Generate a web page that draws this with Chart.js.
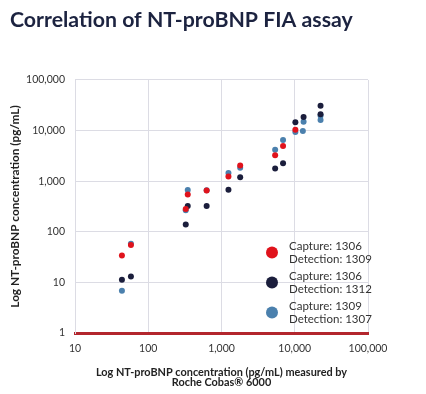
<!DOCTYPE html>
<html><head><meta charset="utf-8">
<script src="https://cdn.jsdelivr.net/npm/chart.js@4/dist/chart.umd.min.js"></script>
<style>html,body{margin:0;padding:0;background:#fff;}#wrap{width:426px;height:394px;position:relative;}</style>
</head><body><div id="wrap"><canvas id="c" width="426" height="394"></canvas></div>
<script>
const chartTitle = 'Correlation of NT-proBNP FIA assay';
const xAxisTitle = ['Log NT-proBNP concentration (pg/mL) measured by', 'Roche Cobas® 6000'];
const yAxisTitle = 'Log NT-proBNP concentration (pg/mL)';
const seriesNames = [['Capture: 1306', 'Detection: 1309'], ['Capture: 1306', 'Detection: 1312'], ['Capture: 1309', 'Detection: 1307']];
const seriesColors = ['#e0131c', '#1b1e3c', '#4b80ad'];
const xTicks = [10, 100, 1000, 10000, 100000];
const yTicks = [1, 10, 100, 1000, 10000, 100000];
// Series 1: Capture 1306 / Detection 1309
const rocheA = [43.7, 58, 325, 346, 627, 1244, 1799, 5400, 6920, 10200];
const fiaA   = [34, 55, 282, 548, 658, 1244, 2052, 3236, 4960, 10420];
// Series 2: Capture 1306 / Detection 1312
const rocheB = [43.7, 58, 325, 346, 627, 1244, 1799, 5400, 6920, 10200, 13200, 22500, 22500];
const fiaB   = [11.3, 13.1, 140, 324, 324, 679, 1189, 1790, 2248, 14520, 18570, 31050, 20900];
// Series 3: Capture 1309 / Detection 1307
const rocheC = [43.7, 58, 325, 346, 627, 1244, 1799, 5400, 6920, 10200, 13200, 12900, 22500, 22500];
const fiaC   = [6.8, 58, 265, 670, 660, 1452, 1849, 4196, 6520, 9380, 15000, 9820, 19700, 16200];

const pairs = (xs, ys) => xs.map((x, i) => ({x: x, y: ys[i]}));
const fmt = v => Number(v).toLocaleString('en-US');
const gridColor = '#dcdce4';
const textColor = '#333333';

const legendPlugin = {
  id: 'customLegend',
  afterDatasetsDraw(chart) {
    const ctx = chart.ctx, a = chart.chartArea;
    ctx.save();
    seriesNames.forEach((lines, i) => {
      const cy = a.bottom - 80.6 + i * 30;
      const cx = a.right - 96;
      ctx.beginPath();
      ctx.arc(cx, cy, 6, 0, Math.PI * 2);
      ctx.fillStyle = seriesColors[i];
      ctx.fill();
      ctx.fillStyle = textColor;
      ctx.font = '11.5px Lato';
      ctx.textAlign = 'left';
      ctx.textBaseline = 'middle';
      ctx.fillText(lines[0], cx + 17, cy - 6.5);
      ctx.fillText(lines[1], cx + 17, cy + 6.5);
    });
    ctx.restore();
  }
};

new Chart(document.getElementById('c'), {
  type: 'scatter',
  data: {
    datasets: [
      {label: seriesNames[0].join(' '), data: pairs(rocheA, fiaA), backgroundColor: seriesColors[0], borderColor: seriesColors[0]},
      {label: seriesNames[1].join(' '), data: pairs(rocheB, fiaB), backgroundColor: seriesColors[1], borderColor: seriesColors[1]},
      {label: seriesNames[2].join(' '), data: pairs(rocheC, fiaC), backgroundColor: seriesColors[2], borderColor: seriesColors[2]}
    ]
  },
  options: {
    responsive: false,
    animation: false,
    devicePixelRatio: 1,
    events: [],
    layout: {padding: {left: 10, right: 58, top: 0, bottom: 0}},
    elements: {point: {radius: 3, borderWidth: 0, hoverRadius: 3}},
    plugins: {
      legend: {display: false},
      tooltip: {enabled: false},
      title: {
        display: true, text: chartTitle, align: 'start', color: '#1c2340',
        font: {family: 'Lato', weight: 'bold', size: 21.3, lineHeight: 1.2},
        padding: {top: 7, bottom: 47.4}
      }
    },
    scales: {
      x: {
        type: 'logarithmic', min: 10, max: 100000,
        afterBuildTicks: s => { s.ticks = xTicks.map(v => ({value: v})); },
        afterFit: s => { s.height = 61; },
        ticks: {callback: v => fmt(v), color: textColor, font: {family: 'Lato', size: 10.5}, padding: 9, maxRotation: 0, autoSkip: false},
        grid: {color: gridColor, lineWidth: 1, drawTicks: false},
        border: {color: '#b3262d', width: 3},
        title: {display: true, text: xAxisTitle, color: '#222222', font: {family: 'Lato', weight: 'bold', size: 10.9, lineHeight: 0.92}, padding: {top: 0, bottom: 6.7}}
      },
      y: {
        type: 'logarithmic', min: 1, max: 100000,
        afterBuildTicks: s => { s.ticks = yTicks.map(v => ({value: v})); },
        afterFit: s => { s.width = 65; },
        ticks: {callback: v => fmt(v), color: textColor, font: {family: 'Lato', size: 10.5}, padding: 10, autoSkip: false},
        grid: {color: gridColor, lineWidth: 1, drawTicks: false},
        border: {color: gridColor, width: 1},
        title: {display: true, text: yAxisTitle, color: '#222222', font: {family: 'Lato', weight: 'bold', size: 11.8, lineHeight: 1.2}, padding: {top: -2, bottom: 0}}
      }
    }
  },
  plugins: [legendPlugin]
});
</script></body></html>
